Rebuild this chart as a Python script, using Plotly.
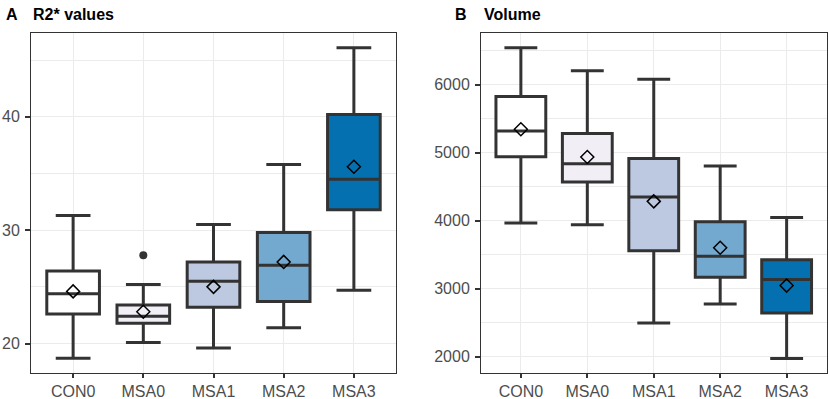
import plotly.graph_objects as go

categories = ["CON0", "MSA0", "MSA1", "MSA2", "MSA3"]
fill_colors = ["#FFFFFF", "#F1EEF6", "#BDC9E1", "#74A9CF", "#0570B0"]

# Panel A: R2* values
r2_lower = [18.7, 20.1, 19.6, 21.4, 24.7]
r2_q1 = [22.6, 21.8, 23.2, 23.7, 31.8]
r2_median = [24.4, 22.4, 25.5, 26.9, 34.5]
r2_q3 = [26.4, 23.4, 27.2, 29.8, 40.2]
r2_upper = [31.3, 25.2, 30.5, 35.8, 46.1]
r2_mean = [24.6, 22.8, 25.0, 27.2, 35.6]
r2_outlier_cat = ["MSA0"]
r2_outlier_val = [27.8]

# Panel B: Volume
vol_lower = [3965, 3940, 2496, 2776, 1975]
vol_q1 = [4943, 4569, 3558, 3169, 2644]
vol_median = [5321, 4840, 4348, 3478, 3135]
vol_q3 = [5828, 5283, 4914, 3985, 3425]
vol_upper = [6545, 6206, 6083, 4805, 4049]
vol_mean = [5346, 4938, 4285, 3602, 3046]

W, H = 829, 399
LINE = "#333333"
GRID = "#EBEBEB"
FONT = "Liberation Sans, Arial, sans-serif"


def fx(px):
    return px / W


def fy(py):
    return 1 - py / H


fig = go.Figure()


def add_panel(xa, ya, lo, q1, med, q3, up, mean):
    for i, c in enumerate(categories):
        fig.add_trace(go.Box(
            x=[c], q1=[q1[i]], median=[med[i]], q3=[q3[i]],
            lowerfence=[lo[i]], upperfence=[up[i]],
            fillcolor=fill_colors[i], line=dict(color=LINE, width=3),
            width=0.75, whiskerwidth=0.66, boxpoints=False,
            xaxis=xa, yaxis=ya, showlegend=False, hoverinfo="skip"))
    fig.add_trace(go.Scatter(
        x=categories, y=mean, mode="markers",
        marker=dict(symbol="diamond-open", size=10, color="black",
                    line=dict(color="black", width=1.5)),
        xaxis=xa, yaxis=ya, showlegend=False, hoverinfo="skip"))


add_panel("x", "y", r2_lower, r2_q1, r2_median, r2_q3, r2_upper, r2_mean)
fig.add_trace(go.Scatter(
    x=r2_outlier_cat, y=r2_outlier_val, mode="markers",
    marker=dict(symbol="circle", size=8, color=LINE),
    xaxis="x", yaxis="y", showlegend=False, hoverinfo="skip"))
add_panel("x2", "y2", vol_lower, vol_q1, vol_median, vol_q3, vol_upper, vol_mean)

# plot area spans y=33..373 px; ranges chosen so ticks land where the reference has them
ydom = [fy(373), fy(33)]

xcommon = dict(type="category", categoryorder="array", categoryarray=categories,
               range=[-0.6, 4.6], showgrid=True, gridcolor=GRID, gridwidth=1.2,
               showline=True, mirror=True, linecolor=LINE, linewidth=1,
               ticks="outside", ticklen=4, tickcolor=LINE, tickwidth=1.5,
               tickfont=dict(family=FONT, size=16, color="#4D4D4D"),
               zeroline=False, automargin=False)
ycommon = dict(showgrid=True, gridcolor=GRID, gridwidth=1.2,
               showline=True, mirror=True, linecolor=LINE, linewidth=1,
               ticks="outside", ticklen=5, tickcolor=LINE, tickwidth=1.5,
               ticklabelstandoff=2,
               tickfont=dict(family=FONT, size=16, color="#4D4D4D"),
               zeroline=False, automargin=False)

title_y = fy(14)
fig.update_layout(
    width=W, height=H,
    margin=dict(l=0, r=0, t=0, b=0),
    paper_bgcolor="white", plot_bgcolor="white",
    boxmode="overlay",
    xaxis=dict(domain=[fx(31), fx(396)], anchor="y", **xcommon),
    yaxis=dict(domain=ydom, anchor="x", range=[17.4, 47.4], tick0=0, dtick=10,
               minor=dict(dtick=5, showgrid=True, gridcolor=GRID, gridwidth=0.6, ticklen=0),
               **ycommon),
    xaxis2=dict(domain=[fx(481), fx(826.5)], anchor="y2", **xcommon),
    yaxis2=dict(domain=ydom, anchor="x2", range=[1760, 6762], tick0=0, dtick=1000,
                minor=dict(dtick=500, showgrid=True, gridcolor=GRID, gridwidth=0.6, ticklen=0),
                **ycommon),
    annotations=[
        dict(text="<b>A</b>", x=fx(4), y=title_y, xref="paper", yref="paper",
             xanchor="left", yanchor="middle", showarrow=False,
             font=dict(family=FONT, size=16, color="black")),
        dict(text="<b>R2* values</b>", x=fx(31), y=title_y, xref="paper", yref="paper",
             xanchor="left", yanchor="middle", showarrow=False,
             font=dict(family=FONT, size=16, color="black")),
        dict(text="<b>B</b>", x=fx(453), y=title_y, xref="paper", yref="paper",
             xanchor="left", yanchor="middle", showarrow=False,
             font=dict(family=FONT, size=16, color="black")),
        dict(text="<b>Volume</b>", x=fx(481.5), y=title_y, xref="paper", yref="paper",
             xanchor="left", yanchor="middle", showarrow=False,
             font=dict(family=FONT, size=16, color="black")),
    ],
)

# remove the browser's default 8px body margin so the figure fills the window
fig.write_html("out.html", config={"displayModeBar": False},
               post_script="document.body.style.margin='0';")
